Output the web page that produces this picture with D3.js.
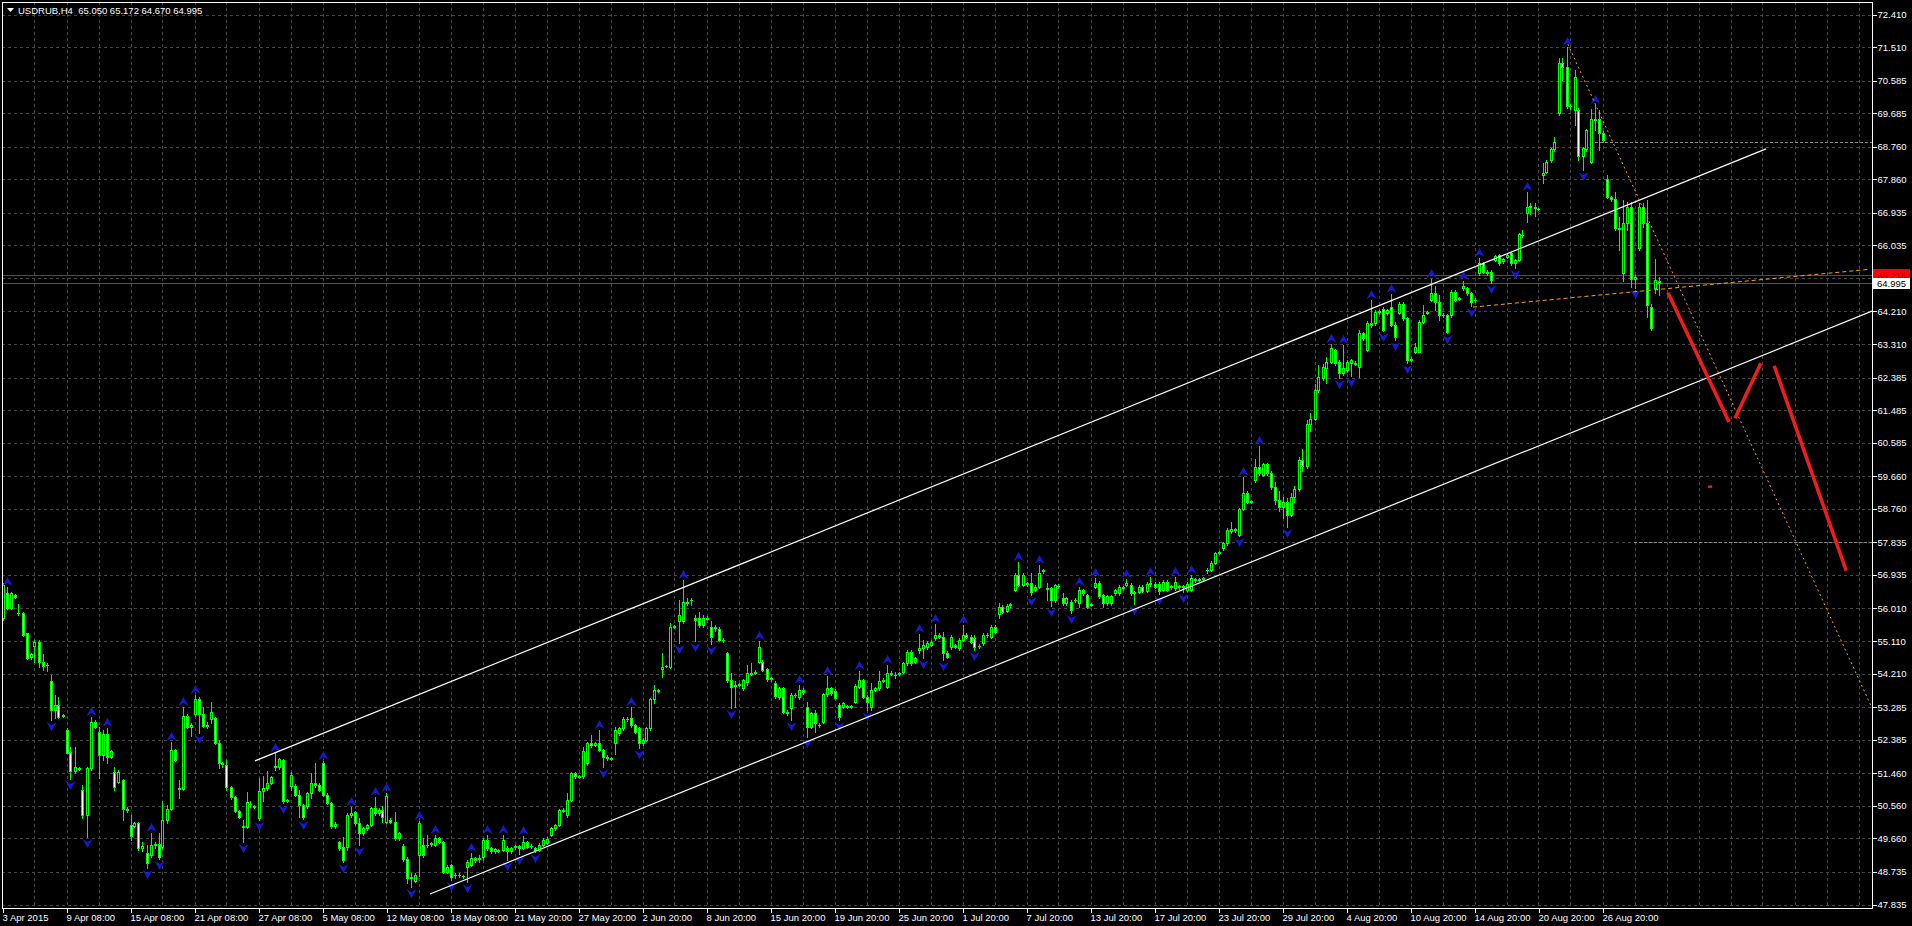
<!DOCTYPE html>
<html><head><meta charset="utf-8">
<script src="https://cdn.jsdelivr.net/npm/d3@7"></script>
<style>
html,body{margin:0;padding:0;background:#000;overflow:hidden}
svg{display:block}
text{font-family:"Liberation Sans",Arial,sans-serif;font-size:9.5px}
</style></head><body>
<svg id="c" width="1912" height="926"></svg>
<script>
const symbol = "USDRUB,H4";
// [open, high, low, close] per H4 bar
const candles = [
[55.74,56.70,55.69,56.66],[56.43,56.61,56.00,56.03],[56.03,56.47,56.00,56.43],[56.38,56.40,56.30,56.32],[55.89,56.12,55.83,55.88],
[55.88,55.90,55.25,55.28],[55.32,55.34,54.62,54.65],[54.66,54.78,54.62,54.75],[54.97,55.14,54.54,55.09],[55.09,55.14,54.40,54.54],
[54.54,54.75,54.31,54.43],[54.44,54.51,54.28,54.46],[54.01,54.17,52.93,53.21],[53.21,53.62,52.98,53.34],[53.34,53.57,52.98,53.02],
[53.04,53.09,53.00,53.06],[52.65,52.70,52.01,52.03],[52.04,52.19,51.30,51.53],[51.53,52.19,51.46,51.62],[51.61,51.64,51.55,51.59],
[51.00,51.14,50.21,50.31],[50.31,51.64,49.71,51.60],[51.60,53.02,51.55,52.88],[52.88,52.92,52.70,52.73],[52.61,52.75,51.32,51.96],
[51.96,52.65,51.83,52.54],[52.54,52.70,51.73,51.92],[51.92,52.10,51.88,52.06],[51.50,51.64,51.00,51.09],[51.23,51.55,51.20,51.50],
[51.26,51.30,50.17,50.46],[50.47,50.54,50.40,50.45],[50.03,50.31,49.62,49.74],[50.01,50.12,49.98,50.08],[50.08,50.12,49.35,49.39],
[49.39,49.57,49.30,49.46],[49.25,49.48,48.83,48.99],[49.20,49.80,49.16,49.48],[49.47,49.55,49.40,49.51],[49.50,49.80,49.08,49.16],
[49.43,50.68,49.40,50.17],[50.17,50.58,50.08,50.47],[50.47,52.33,50.44,52.10],[52.10,52.14,51.80,51.83],[51.06,51.27,50.77,51.03],
[51.02,53.30,51.00,53.04],[53.04,53.10,52.70,52.73],[52.75,52.84,52.50,52.78],[53.10,53.62,53.05,53.50],[53.50,53.57,52.56,53.10],
[53.10,53.30,52.75,52.77],[52.76,52.88,52.70,52.78],[52.97,53.44,52.84,53.14],[52.98,53.02,52.27,52.30],[52.30,52.38,51.60,51.73],
[51.74,51.78,51.64,51.72],[51.69,51.83,51.00,51.09],[51.09,51.12,50.75,50.79],[50.79,50.82,50.38,50.42],[50.42,50.45,50.22,50.26],
[49.99,50.17,49.55,49.97],[49.98,50.93,49.94,50.66],[50.62,50.70,50.52,50.60],[50.55,50.58,50.50,50.53],[50.21,51.32,50.17,50.97],
[50.97,51.37,50.68,51.04],[51.04,51.53,51.00,51.20],[51.20,51.38,51.17,51.35],[51.62,52.01,51.55,51.65],[51.62,51.88,51.58,51.84],
[51.83,51.85,50.63,50.70],[50.71,50.74,50.66,50.69],[51.11,51.49,51.00,51.41],[51.12,51.15,50.83,50.86],[50.86,51.00,50.26,50.58],
[50.58,50.60,50.20,50.26],[50.56,50.95,50.50,50.91],[50.91,51.46,50.77,51.18],[51.18,51.74,51.09,51.14],[51.14,51.18,50.96,51.00],
[51.74,51.80,50.82,50.86],[50.86,50.90,50.60,50.63],[50.63,50.66,49.95,49.99],[49.99,50.10,49.95,50.06],[49.57,49.60,49.35,49.39],
[49.42,49.71,49.00,49.06],[49.42,50.35,49.34,50.30],[50.30,50.52,50.26,50.35],[50.39,50.42,50.04,50.08],[50.08,50.22,49.48,49.80],
[49.80,49.98,49.76,49.94],[49.94,50.06,49.90,50.03],[50.03,50.52,50.00,50.49],[50.49,50.80,50.30,50.35],[50.35,50.50,50.30,50.44],
[50.44,50.55,50.10,50.26],[50.12,50.92,50.08,50.82],[50.17,50.22,50.08,50.12],[50.12,50.40,49.62,49.66],[49.66,49.84,49.62,49.80],
[49.45,49.50,49.04,49.08],[49.08,49.16,48.42,48.56],[48.56,48.70,48.33,48.60],[48.49,48.70,48.45,48.65],[49.20,50.14,48.62,50.08],
[49.48,49.66,49.16,49.20],[49.47,49.75,49.43,49.49],[49.50,49.56,49.46,49.52],[49.48,49.76,49.45,49.66],[49.66,49.70,49.53,49.57],
[49.57,49.60,48.70,48.74],[48.74,48.92,48.70,48.88],[48.93,48.96,48.50,48.60],[48.64,48.70,48.58,48.66],[48.66,48.70,48.60,48.64],
[48.63,48.66,48.58,48.61],[48.88,49.05,48.45,49.02],[48.93,49.25,48.90,49.11],[49.11,49.16,49.02,49.06],[49.10,49.20,49.02,49.12],
[49.16,49.66,49.06,49.62],[49.62,49.76,49.35,49.39],[49.39,49.43,49.26,49.30],[49.30,49.40,49.26,49.36],[49.33,49.36,49.28,49.31],
[49.34,49.76,49.30,49.62],[49.39,49.45,49.06,49.32],[49.30,49.43,49.25,49.39],[49.42,49.48,49.38,49.44],[49.44,49.47,49.22,49.39],
[49.39,49.72,49.36,49.57],[49.57,49.60,49.40,49.43],[49.44,49.50,49.40,49.46],[49.39,49.42,49.28,49.34],[49.34,49.52,49.30,49.48],
[49.48,49.66,49.45,49.62],[49.52,49.70,49.50,49.64],[49.76,49.98,49.72,49.94],[49.94,50.06,49.90,50.03],[50.03,50.48,50.00,50.44],
[50.43,50.50,50.38,50.45],[50.30,50.90,50.26,50.72],[50.72,51.50,50.68,51.46],[51.46,51.50,51.33,51.37],[51.36,51.42,51.32,51.38],
[51.37,52.19,51.32,52.06],[51.73,52.33,51.70,52.29],[52.29,52.52,52.19,52.24],[52.25,52.33,52.20,52.29],[52.29,52.64,52.06,52.10],
[52.10,52.14,51.62,51.92],[51.92,51.96,51.83,51.87],[51.86,51.92,51.82,51.88],[52.29,52.75,52.00,52.65],[52.56,52.74,52.52,52.70],
[52.70,53.00,52.66,52.95],[52.95,53.00,52.90,52.97],[52.98,53.30,52.75,52.79],[52.79,52.82,52.57,52.61],[52.70,52.74,52.15,52.29],
[52.29,52.42,52.25,52.38],[52.38,52.74,52.34,52.70],[52.70,53.54,52.66,53.50],[53.50,53.90,53.39,53.76],[53.75,53.78,53.70,53.73],
[54.33,54.77,54.13,54.40],[54.41,54.46,54.38,54.43],[54.40,55.60,54.36,55.51],[55.50,55.56,55.46,55.52],[55.65,56.24,55.05,55.83],
[55.65,56.80,55.60,56.20],[56.20,56.30,56.10,56.15],[56.23,56.29,56.10,56.25],[55.74,55.83,55.12,55.69],[55.74,55.90,55.50,55.55],
[55.55,55.83,55.50,55.74],[55.73,55.80,55.68,55.75],[55.51,55.65,55.02,55.23],[55.46,55.55,55.40,55.51],[55.43,55.50,55.10,55.14],
[55.15,55.20,55.08,55.13],[54.77,54.82,53.99,54.03],[54.03,54.22,53.27,53.85],[53.88,54.00,53.30,53.90],[53.90,53.96,53.86,53.92],
[53.80,54.07,53.76,54.03],[53.99,54.45,53.90,54.22],[54.21,54.49,54.17,54.23],[54.23,54.30,54.20,54.25],[54.54,55.12,54.50,54.95],
[54.54,54.58,54.27,54.31],[54.33,54.36,54.00,54.05],[54.07,54.12,54.02,54.09],[53.96,54.00,53.55,53.59],[53.57,53.84,53.52,53.80],
[53.80,53.84,53.12,53.16],[53.16,53.20,53.06,53.11],[53.25,53.67,52.92,53.62],[53.61,53.67,53.57,53.63],[53.57,53.90,53.52,53.76],
[53.76,53.80,53.66,53.71],[53.30,53.44,52.47,52.75],[52.75,53.15,52.70,53.11],[53.11,53.21,52.61,52.84],[52.80,52.84,52.74,52.78],
[52.88,53.67,52.84,53.64],[53.64,54.15,53.60,53.80],[53.80,53.84,53.63,53.67],[53.74,53.78,53.51,53.55],[53.34,53.39,52.92,53.02],
[53.30,53.43,53.25,53.39],[53.31,53.34,53.25,53.29],[53.29,53.35,53.26,53.31],[53.44,53.91,53.40,53.87],[53.83,54.28,53.80,54.03],
[54.03,54.07,53.53,53.57],[53.57,53.62,53.20,53.44],[53.30,53.94,53.20,53.76],[53.76,53.84,53.72,53.80],[53.80,54.27,53.76,54.02],
[54.02,54.08,53.98,54.04],[53.85,54.45,53.80,54.22],[54.21,54.27,54.17,54.23],[54.18,54.26,54.08,54.16],[54.20,54.26,54.16,54.22],
[54.26,54.53,54.22,54.49],[54.49,54.86,54.45,54.82],[54.82,54.86,54.45,54.49],[54.54,54.67,54.50,54.63],[54.86,55.30,54.77,54.91],
[54.91,55.14,54.63,55.00],[54.95,55.10,54.90,55.05],[55.00,55.14,54.96,55.09],[55.19,55.58,55.14,55.28],[55.28,55.32,55.19,55.23],
[55.23,55.37,54.58,54.77],[54.79,54.83,54.64,54.68],[54.95,55.27,54.90,55.23],[55.00,55.04,54.91,54.95],[54.91,55.18,54.87,55.14],
[55.14,55.54,55.10,55.28],[55.28,55.32,55.19,55.23],[55.23,55.27,55.05,55.09],[55.19,55.28,54.86,54.95],[54.96,55.02,54.92,54.98],
[55.05,55.32,55.00,55.28],[55.27,55.33,55.23,55.29],[55.23,55.55,55.19,55.51],[55.51,55.55,55.33,55.37],[55.87,56.15,55.74,56.04],
[56.06,56.10,55.88,55.92],[55.95,56.12,55.90,56.08],[56.10,56.16,56.06,56.12],[56.52,56.98,56.48,56.93],[56.93,57.30,56.62,56.66],
[56.66,56.98,56.62,56.93],[56.68,56.74,56.64,56.70],[56.72,56.98,56.38,56.47],[56.52,56.65,56.48,56.61],[56.61,57.20,56.57,56.98],
[57.04,57.10,57.00,57.06],[56.58,56.70,56.24,56.56],[56.57,56.60,56.08,56.24],[56.24,56.69,56.20,56.65],[56.64,56.68,56.58,56.62],
[56.29,56.43,56.10,56.15],[56.15,56.33,56.11,56.29],[56.20,56.24,55.88,55.97],[56.23,56.29,56.19,56.25],[56.15,56.60,56.06,56.52],
[56.52,56.56,56.39,56.43],[56.38,56.42,56.02,56.06],[56.11,56.17,56.07,56.13],[56.61,56.85,56.57,56.70],[56.72,56.76,56.30,56.34],
[56.38,56.42,56.05,56.15],[56.15,56.38,56.11,56.34],[56.15,56.38,56.11,56.34],[56.43,56.56,56.39,56.52],[56.43,56.65,56.39,56.61],
[56.59,56.63,56.53,56.57],[56.66,56.83,56.62,56.72],[56.66,56.70,56.39,56.43],[56.44,56.50,56.12,56.46],[56.47,56.65,56.43,56.61],
[56.61,56.65,56.46,56.50],[56.50,56.73,56.46,56.69],[56.68,56.88,56.64,56.70],[56.69,56.73,56.57,56.61],[56.69,56.73,56.40,56.50],
[56.52,56.79,56.48,56.75],[56.75,56.79,56.48,56.52],[56.60,56.66,56.56,56.62],[56.57,56.88,56.53,56.75],[56.62,56.66,56.56,56.60],
[56.60,56.66,56.46,56.62],[56.52,56.73,56.48,56.69],[56.52,56.93,56.48,56.84],[56.79,56.85,56.75,56.81],[56.80,56.86,56.76,56.82],
[56.83,56.89,56.79,56.85],[57.06,57.12,57.00,57.08],[57.07,57.31,57.03,57.27],[57.27,57.57,57.23,57.53],[57.54,57.60,57.50,57.56],
[57.67,57.85,57.63,57.81],[57.81,58.22,57.77,58.18],[58.16,58.41,58.08,58.19],[58.19,58.23,58.13,58.17],[58.04,58.79,58.00,58.75],
[58.75,59.65,58.72,59.21],[59.21,59.25,58.92,58.96],[58.95,59.01,58.91,58.97],[59.56,60.15,59.51,59.92],[59.92,60.50,59.70,59.74],
[59.70,60.03,59.66,59.99],[59.99,60.03,59.70,59.74],[59.74,59.80,59.30,59.35],[59.35,59.50,58.90,59.00],[59.00,59.25,58.70,58.80],
[58.80,59.10,58.50,58.95],[58.95,59.05,58.25,58.60],[58.60,59.20,58.55,59.10],[59.10,59.40,58.95,59.30],[59.30,60.20,59.25,60.10],
[60.10,60.40,59.80,59.95],[59.95,61.20,59.90,61.10],[61.10,61.40,60.90,61.25],[61.25,62.20,61.20,62.05],[62.04,62.73,62.00,62.41],
[62.36,62.75,62.32,62.69],[62.64,62.96,62.23,62.82],[62.82,63.30,62.78,63.19],[63.15,63.18,62.74,62.78],[62.82,62.86,62.37,62.50],
[62.50,63.28,62.46,62.64],[62.59,62.86,62.55,62.82],[62.78,62.91,62.43,62.87],[62.79,62.83,62.73,62.77],[62.69,63.70,62.41,63.61],
[63.61,63.65,63.43,63.47],[63.15,63.94,63.11,63.90],[63.90,64.52,63.79,63.84],[63.88,64.24,63.84,64.20],[64.21,64.25,64.15,64.19],
[64.27,64.34,63.66,63.70],[64.16,64.29,64.12,64.25],[64.34,64.69,63.80,63.84],[63.84,63.93,63.42,63.51],[64.18,64.47,64.14,64.43],
[64.43,64.47,63.98,64.02],[64.02,64.07,62.80,62.87],[62.88,62.94,62.84,62.90],[63.10,63.33,63.05,63.24],[63.10,63.97,63.10,63.93],
[63.93,64.39,63.89,64.11],[64.17,64.23,64.13,64.19],[64.53,65.12,64.49,64.71],[64.71,64.90,64.25,64.48],[64.48,64.66,63.97,64.11],
[64.12,64.16,64.06,64.10],[64.11,64.15,63.61,63.65],[64.11,64.80,64.07,64.76],[64.76,64.80,64.49,64.53],[64.56,64.62,64.52,64.58],
[64.85,65.04,64.81,64.90],[64.85,64.89,64.67,64.71],[64.71,64.75,64.35,64.48],[64.52,64.58,64.48,64.54],[65.26,65.70,65.22,65.54],
[65.54,65.58,65.27,65.31],[65.31,65.35,65.22,65.26],[65.31,65.35,65.00,65.08],[65.63,65.78,65.59,65.74],[65.77,65.81,65.50,65.54],
[65.59,65.69,65.55,65.65],[65.72,65.81,65.68,65.77],[65.82,65.86,65.50,65.54],[65.54,65.67,65.42,65.63],[65.63,66.39,65.59,66.35],
[66.33,66.45,66.27,66.31],[66.92,67.50,66.69,67.10],[67.09,67.20,66.90,67.11],[67.10,67.20,66.85,67.07],[67.05,67.08,67.00,67.03],
[67.98,68.30,67.75,68.04],[68.07,68.39,68.03,68.35],[68.39,68.73,68.35,68.69],[68.69,69.04,68.65,68.90],[69.68,71.20,69.64,71.06],
[71.06,71.20,70.60,70.97],[70.97,71.51,69.83,69.87],[69.87,69.95,69.80,69.89],[69.77,70.88,69.36,70.69],[69.77,69.82,68.40,68.49],
[68.50,68.75,68.12,68.71],[68.69,69.26,68.65,69.22],[68.35,69.80,68.30,69.52],[69.52,69.90,69.22,69.50],[69.52,69.77,68.67,69.15],
[69.15,69.20,68.90,68.95],[67.86,67.98,67.33,67.38],[67.36,67.40,67.27,67.31],[67.31,67.52,66.46,66.51],[66.52,66.83,65.91,66.50],
[65.26,67.30,65.04,66.64],[66.64,67.24,66.46,67.10],[67.10,67.24,64.89,65.12],[65.12,65.22,64.85,65.17],[65.95,67.20,65.90,67.10],
[67.10,67.20,66.55,66.64],[66.64,67.29,64.07,64.39],[64.34,64.43,63.70,63.74],[64.85,65.67,64.71,65.08],[65.050,65.172,64.670,64.995]
];
const fractalUp = [1,22,26,37,42,45,48,68,80,87,93,96,104,108,117,121,125,130,149,157,170,189,199,206,214,221,229,233,240,254,259,269,273,281,287,293,297,310,314,332,335,342,347,357,365,369,381,391,398];
const fractalDown = [12,17,21,36,39,49,60,64,70,75,85,89,102,112,116,126,129,133,150,159,169,173,177,182,197,201,209,216,230,235,243,257,262,267,283,289,295,309,321,334,337,345,348,351,361,367,372,378,395,408];
const timeLabels = ["3 Apr 2015","9 Apr 08:00","15 Apr 08:00","21 Apr 08:00","27 Apr 08:00","5 May 08:00","12 May 08:00","18 May 08:00","21 May 20:00","27 May 20:00","2 Jun 20:00","8 Jun 20:00","15 Jun 20:00","19 Jun 20:00","25 Jun 20:00","1 Jul 20:00","7 Jul 20:00","13 Jul 20:00","17 Jul 20:00","23 Jul 20:00","29 Jul 20:00","4 Aug 20:00","10 Aug 20:00","14 Aug 20:00","20 Aug 20:00","26 Aug 20:00"];
const timeLabelBars = [0,16,32,48,64,80,96,112,128,144,160,176,192,208,224,240,256,272,288,304,320,336,352,368,384,400];
const priceTicks = [72.410,71.510,70.585,69.685,68.760,67.860,66.935,66.035,65.135,64.210,63.310,62.385,61.485,60.585,59.660,58.760,57.835,56.935,56.010,55.110,54.210,53.285,52.385,51.460,50.560,49.660,48.735,47.835];
const hiddenTicks = [65.135]; // grid line whose label sits under the price boxes
const askPrice = 65.218, bidPrice = 64.995;
// drawn objects: [barIndex, price]
const channelUpper = [[63,51.80],[440.75,68.70]];
const channelLower = [[106.75,48.125],[467.25,64.22]];
const trendFromPeak = [[391.2,71.595],[467.25,53.26]];
const trendFromLow = [[367.5,64.33],[466.75,65.375]];
const levelLines = [[398,68.90],[407.75,57.84]];
const forecastLegs = [[[416.25,64.73],[431.5,61.16]],[[433,61.26],[439.45,62.78]],[[442.8,62.71],[460.8,57.05]]];
const forecastDot = [426.65,59.38];

const W=1912,H=926,L=2,R=1872,T=2,B=908;
const FONT='Liberation Sans, Arial, sans-serif';
const x=d3.scaleLinear().domain([-0.25,467.25]).range([L,R]);
const y=d3.scaleLinear().domain([47.835,72.41]).range([904.5,14.5]);
const svg=d3.select('#c');
svg.append('rect').attr('width',W).attr('height',H).attr('fill','#000');
svg.append('defs').append('clipPath').attr('id','clip').append('rect').attr('x',L).attr('y',T).attr('width',R-L).attr('height',B-T);
const g=svg.append('g').attr('clip-path','url(#clip)');

// grid
const gridC='#474747';
g.append('g').selectAll('line').data(d3.range(8,467,8)).join('line')
 .attr('x1',d=>Math.floor(x(d))+0.5).attr('x2',d=>Math.floor(x(d))+0.5).attr('y1',T).attr('y2',B)
 .attr('stroke',gridC).attr('stroke-dasharray','3,3').attr('shape-rendering','crispEdges');
g.append('g').selectAll('line').data(priceTicks).join('line')
 .attr('y1',d=>Math.round(y(d))+0.5).attr('y2',d=>Math.round(y(d))+0.5).attr('x1',L).attr('x2',R)
 .attr('stroke',gridC).attr('stroke-dasharray','3,3').attr('shape-rendering','crispEdges');

// bid / ask lines
g.append('line').attr('x1',L).attr('x2',R).attr('y1',Math.round(y(bidPrice))+0.5).attr('y2',Math.round(y(bidPrice))+0.5).attr('stroke','#555').attr('shape-rendering','crispEdges');
g.append('line').attr('x1',L).attr('x2',R).attr('y1',Math.round(y(askPrice))+0.5).attr('y2',Math.round(y(askPrice))+0.5).attr('stroke','#ff0000').attr('shape-rendering','crispEdges');

// candles
const bodyTop=d=>Math.round(y(Math.max(d[0],d[3])));
const bodyBot=d=>Math.round(y(Math.min(d[0],d[3])));
const cg=g.append('g').attr('shape-rendering','crispEdges');
const sel=cg.selectAll('g').data(candles.map((d,i)=>({d,i}))).join('g');
sel.append('rect').attr('x',e=>Math.floor(x(e.i))).attr('width',1)
 .attr('y',e=>Math.round(y(e.d[1]))).attr('height',e=>Math.max(1,Math.round(y(e.d[2]))-Math.round(y(e.d[1]))+1)).attr('fill','#00ff00');
sel.append('rect').attr('x',e=>Math.floor(x(e.i))-1).attr('width',3)
 .attr('y',e=>bodyTop(e.d)).attr('height',e=>bodyBot(e.d)-bodyTop(e.d)+1).attr('fill','#00ff00');
sel.filter(e=>bodyBot(e.d)-bodyTop(e.d)+1>2)
 .append('rect').attr('x',e=>Math.floor(x(e.i))).attr('width',1)
 .attr('y',e=>bodyTop(e.d)+1).attr('height',e=>bodyBot(e.d)-bodyTop(e.d)-1)
 .attr('fill',e=>e.d[3]>=e.d[0]?'#000':'#fff');

// fractals
const fc='#1818d0';
g.append('g').selectAll('path').data(fractalUp).join('path')
 .attr('d',i=>{const cx=Math.floor(x(i))+0.5, b=Math.round(y(candles[i][1]))-1; return `M${cx},${b-9}L${cx+5},${b}L${cx},${b-3}L${cx-5},${b}Z`;})
 .attr('fill',fc);
g.append('g').selectAll('path').data(fractalDown).join('path')
 .attr('d',i=>{const cx=Math.floor(x(i))+0.5, b=Math.round(y(candles[i][2]))+2; return `M${cx},${b+9}L${cx+5},${b}L${cx},${b+3}L${cx-5},${b}Z`;})
 .attr('fill',fc);

const line=d3.line().x(d=>x(d[0])).y(d=>y(d[1]));
// horizontal level lines
g.append('g').selectAll('line').data(levelLines).join('line')
 .attr('x1',d=>x(d[0])).attr('x2',R).attr('y1',d=>Math.round(y(d[1]))+0.5).attr('y2',d=>Math.round(y(d[1]))+0.5)
 .attr('stroke','#8a8a8a').attr('stroke-dasharray','3,2').attr('shape-rendering','crispEdges');
// channel
g.append('path').attr('d',line(channelUpper)).attr('stroke','#fff').attr('stroke-width',1.2).attr('fill','none');
g.append('path').attr('d',line(channelLower)).attr('stroke','#fff').attr('stroke-width',1.2).attr('fill','none');
// orange trendlines
g.append('path').attr('d',line(trendFromPeak)).attr('stroke','#ffa500').attr('stroke-dasharray','2,3').attr('fill','none');
g.append('path').attr('d',line(trendFromLow)).attr('stroke','#ffa500').attr('stroke-dasharray','4,3').attr('fill','none');
// red forecast
g.append('g').selectAll('path').data(forecastLegs).join('path').attr('d',d=>line(d))
 .attr('stroke','#f21c1c').attr('stroke-width',3.5).attr('fill','none');
g.append('rect').attr('x',x(forecastDot[0])-1.5).attr('y',y(forecastDot[1])-1).attr('width',4).attr('height',2.5).attr('fill','#f21c1c');

// frame
svg.append('rect').attr('x',L+0.5).attr('y',T+0.5).attr('width',R-L).attr('height',B-T).attr('fill','none').attr('stroke','#fff').attr('shape-rendering','crispEdges');

// right price axis
const fmt=d3.format('.3f');
const ya=svg.append('g').attr('transform',`translate(${R+0.5},0)`)
 .call(d3.axisRight(y).tickValues(priceTicks).tickFormat(d=>hiddenTicks.includes(d)?'':fmt(d)).tickSize(4).tickPadding(1));
ya.select('.domain').remove();
ya.selectAll('line').attr('stroke','#fff').attr('shape-rendering','crispEdges');
ya.selectAll('text').style('fill','#fff').attr('font-family',FONT).attr('font-size','9.5px');

// bottom time axis
const xa=svg.append('g').attr('transform',`translate(0,${B+0.5})`)
 .call(d3.axisBottom(x).tickValues(timeLabelBars).tickFormat((d,i)=>timeLabels[i]).tickSize(4).tickPadding(2));
xa.select('.domain').remove();
xa.selectAll('line').attr('stroke','#fff').attr('shape-rendering','crispEdges');
xa.selectAll('text').style('fill','#fff').attr('text-anchor','start').attr('dx','-1')
 .attr('font-family',FONT).attr('font-size','9.5px');

// price label boxes
svg.append('rect').attr('x',R+1).attr('y',Math.round(y(askPrice))-6).attr('width',37).attr('height',12).attr('fill','#ff0000');
svg.append('text').attr('x',R+5).attr('y',Math.round(y(askPrice))+4).text(fmt(askPrice)).style('fill','#9a0000');
svg.append('rect').attr('x',R+1).attr('y',Math.round(y(bidPrice))-5).attr('width',37).attr('height',11).attr('fill','#ffffff');
svg.append('text').attr('x',R+5).attr('y',Math.round(y(bidPrice))+4).text(fmt(bidPrice)).style('fill','#000');

// title
const last=candles[candles.length-1];
svg.append('path').attr('d','M7,8L14,8L10.5,12Z').attr('fill','#fff');
svg.append('text').attr('x',18).attr('y',14).attr('xml:space','preserve').style('fill','#fff')
 .text(`${symbol}  ${last.map(fmt).join(' ')}`);
</script>
</body></html>
